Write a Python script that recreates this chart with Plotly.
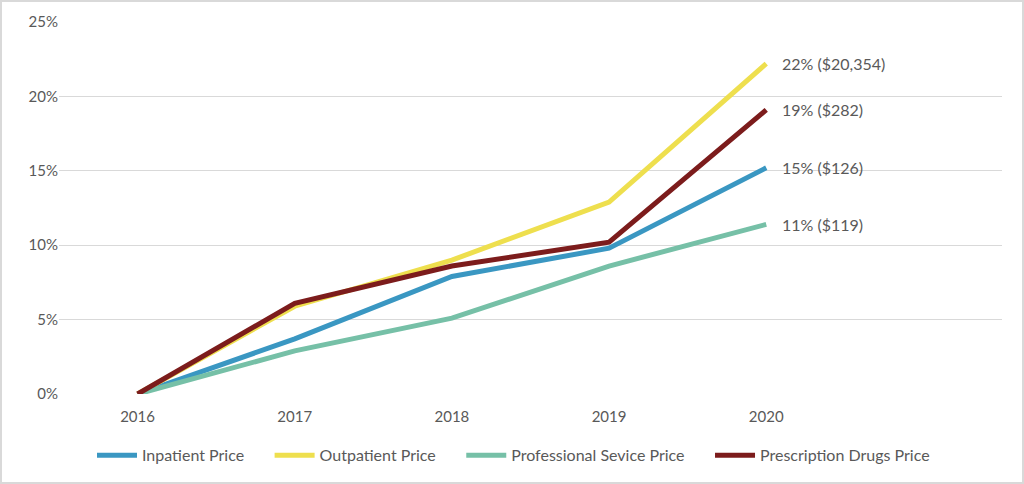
import plotly.graph_objects as go

years = ['2016', '2017', '2018', '2019', '2020']
inpatient = [0, 3.7, 7.9, 9.8, 15.2]
outpatient = [0, 5.9, 9.0, 12.9, 22.2]
professional = [0, 2.9, 5.1, 8.6, 11.4]
prescription = [0, 6.1, 8.6, 10.2, 19.1]

end_labels = ['15% ($126)', '22% ($20,354)', '11% ($119)', '19% ($282)']
names = ['Inpatient Price', 'Outpatient Price', 'Professional Sevice Price', 'Prescription Drugs Price']
colors = ['#3A97C2', '#EEDF4E', '#76C0A7', '#7C1C1C']
series = [inpatient, outpatient, professional, prescription]

x = list(range(len(years)))
pad = '\u00a0' * 5  # a bit more room between legend items, like the original

fig = go.Figure()
for name, vals, col in zip(names, series, colors):
    fig.add_trace(go.Scatter(x=x, y=vals, name=name + pad, mode='lines',
                             line=dict(color=col, width=5)))

for vals, lab in zip(series, end_labels):
    fig.add_annotation(x=x[-1], y=vals[-1], text=lab, showarrow=False,
                       xanchor='left', xshift=14,
                       font=dict(size=16, color='#595959'))

# picture frame around the whole chart
pw, ph = 943, 372
fig.add_shape(type='rect', xref='paper', yref='paper',
              x0=-58 / pw, x1=(1023 - 59) / pw,
              y0=-(483 - 394) / ph, y1=1 + 21 / ph,
              line=dict(color='#D9D9D9', width=2))

fig.update_layout(
    width=1024, height=484,
    margin=dict(l=59, r=22, t=22, b=90, autoexpand=False),
    plot_bgcolor='white', paper_bgcolor='white',
    font=dict(family='Lato', size=15, color='#595959'),
    showlegend=True,
    legend=dict(orientation='h', x=(92 - 59) / pw, xanchor='left', y=-0.119, yanchor='top',
                font=dict(size=16, color='#595959'), itemwidth=40),
    xaxis=dict(range=[-0.5, 5.5], tickmode='array', tickvals=x, ticktext=years,
               showgrid=False, zeroline=False, showline=False, ticks='',
               ticklabelstandoff=12),
    yaxis=dict(range=[0, 25], dtick=5, ticksuffix='%', showgrid=True,
               gridcolor='#D9D9D9', gridwidth=1, zeroline=False, showline=False),
)

fig.write_html('out.html', config={'displayModeBar': False},
               post_script="document.body.style.margin='0px';")
